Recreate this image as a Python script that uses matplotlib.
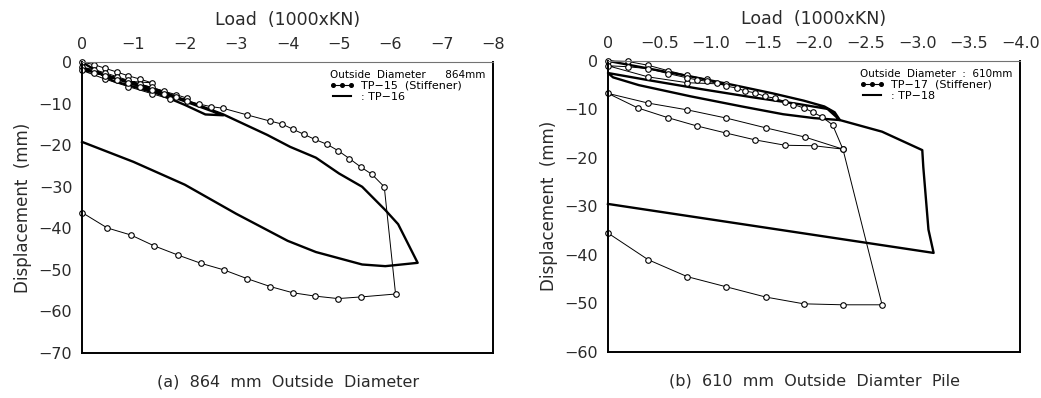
import matplotlib
matplotlib.use("Agg")
import matplotlib.pyplot as plt
from matplotlib.lines import Line2D
from matplotlib.ticker import FixedLocator, FixedFormatter

# ---------------- data: panel (a) 864 mm ----------------
a_xticks = [0, -1, -2, -3, -4, -5, -6, -7, -8]
a_xticklabels = ["0", "−1", "−2", "−3", "−4", "−5", "−6", "−7", "−8"]
a_yticks = [0, -10, -20, -30, -40, -50, -60, -70]
a_yticklabels = ["0", "−10", "−20", "−30", "−40", "−50", "−60", "−70"]

tp15_load = [0, -0.23, -0.45, -0.68, -0.9, -1.13, -1.36,
             -0.9, -0.45, 0,
             -0.23, -0.45, -0.68, -0.9, -1.13, -1.36, -1.59, -1.82, -2.05,
             -1.71, -1.36, -0.9, -0.45, 0,
             -0.23, -0.45, -0.68, -0.9, -1.13, -1.36, -1.59, -1.82, -2.05, -2.28, -2.5, -2.74,
             -3.21, -3.66, -3.89, -4.11, -4.32, -4.53, -4.77, -4.98, -5.2, -5.43, -5.64, -5.88,
             -6.1,
             -5.43, -4.98, -4.53, -4.1, -3.66, -3.21, -2.76, -2.31, -1.86, -1.4, -0.95, -0.49, 0]
tp15_disp = [0, -0.6, -1.5, -2.4, -3.3, -4.1, -5.0,
             -4.6, -3.4, -1.2,
             -1.8, -2.6, -3.5, -4.4, -5.3, -6.1, -7.0, -7.8, -8.7,
             -8.9, -7.6, -5.9, -4.1, -2.0,
             -2.6, -3.3, -4.2, -5.0, -5.9, -6.8, -7.7, -8.5, -9.4, -10.1, -10.7, -11.1,
             -12.7, -14.2, -14.9, -16.2, -17.4, -18.6, -19.8, -21.3, -23.2, -25.3, -27.0, -30.0,
             -55.8,
             -56.5, -56.9, -56.3, -55.5, -54.0, -52.1, -50.0, -48.4, -46.4, -44.2, -41.6, -39.9, -36.2]

tp16_load = [0, -0.6, -1.5, -2.0, -2.4, -2.75,
             -1.5, 0,
             -1.5, -2.75,
             -3.6, -4.05, -4.55, -5.0, -5.45, -5.9, -6.15, -6.53,
             -5.9, -5.45, -4.55, -4.0, -3.0, -2.0, -1.0, 0]
tp16_disp = [0, -4.5, -7.7, -10.3, -12.6, -12.8,
             -7.2, -1.5,
             -6.8, -12.6,
             -17.5, -20.4, -23.0, -26.8, -30.0, -35.6, -39.0, -48.3,
             -49.1, -48.7, -45.7, -43.0, -36.5, -29.5, -24.0, -19.2]

# ---------------- data: panel (b) 610 mm ----------------
b_xticks = [0, -0.5, -1.0, -1.5, -2.0, -2.5, -3.0, -3.5, -4.0]
b_xticklabels = ["0", "−0.5", "−1.0", "−1.5", "−2.0", "−2.5", "−3.0", "−3.5", "−4.0"]
b_yticks = [0, -10, -20, -30, -40, -50, -60]
b_yticklabels = ["0", "−10", "−20", "−30", "−40", "−50", "−60"]

tp17_load = [0, -0.19, -0.39, -0.58, -0.77, -0.96, -1.15,
             -0.77, -0.39, 0,
             -0.19, -0.39, -0.58, -0.77, -0.86, -0.96, -1.06, -1.15, -1.25, -1.33, -1.43,
             -1.52, -1.62, -1.72, -1.8, -1.9, -1.99, -2.08, -2.18, -2.28,
             -2.0, -1.72, -1.43, -1.15, -0.86, -0.58, -0.29, 0,
             -0.39, -0.77, -1.15, -1.53, -1.91, -2.28,
             -2.66,
             -2.28, -1.9, -1.53, -1.15, -0.77, -0.39, 0]
tp17_disp = [0, -0.1, -0.9, -2.0, -3.0, -3.8, -4.8,
             -4.5, -3.3, -1.0,
             -1.2, -1.6, -2.6, -3.5, -3.9, -4.2, -4.6, -5.2, -5.6, -6.2, -6.6,
             -7.3, -7.7, -8.4, -9.0, -9.7, -10.6, -11.6, -13.2, -18.2,
             -17.5, -17.4, -16.3, -14.9, -13.4, -11.7, -9.7, -6.7,
             -8.7, -10.1, -11.8, -13.8, -15.7, -18.2,
             -50.3,
             -50.3, -50.1, -48.7, -46.6, -44.5, -41.0, -35.5]

tp18_load = [0, -0.4, -0.8, -1.2, -1.6, -1.9, -2.1, -2.2, -2.25,
             -2.0, -1.7, -1.3, -0.8, -0.3, -0.05, 0,
             -0.4, -0.9, -1.4, -1.85, -2.13, -2.25,
             -2.66, -3.05, -3.06, -3.11, -3.16,
             0]
tp18_disp = [0, -1.6, -3.2, -4.9, -6.7, -8.2, -9.4, -10.6, -12.2,
             -11.8, -11.0, -9.4, -7.3, -5.0, -3.4, -2.5,
             -4.0, -5.8, -7.5, -8.9, -9.9, -12.2,
             -14.6, -18.4, -21.9, -34.8, -39.6,
             -29.5]

panel_titles = ["(a)  864  mm  Outside  Diameter", "(b)  610  mm  Outside  Diamter  Pile"]
legend_titles = ["Outside  Diameter      864mm", "Outside  Diameter  :  610mm"]
stiff_labels = ["TP−15  (Stiffener)", "TP−17  (Stiffener)"]
plain_labels = [": TP−16", ": TP−18"]

# ---------------- drawing ----------------
plt.rcParams['font.family'] = ['DejaVu Sans']
fig = plt.figure(figsize=(10.41, 3.98), dpi=100)
axA = fig.add_axes([0.0788, 0.113, 0.395, 0.731])
axB = fig.add_axes([0.584, 0.116, 0.396, 0.731])

panels = [
    (axA, (0, -8), (-70, 0), a_xticks, a_xticklabels, a_yticks, a_yticklabels,
     tp15_load, tp15_disp, tp16_load, tp16_disp),
    (axB, (0, -4), (-60, 0), b_xticks, b_xticklabels, b_yticks, b_yticklabels,
     tp17_load, tp17_disp, tp18_load, tp18_disp),
]

txtc = '#2a2a2a'
for i, (ax, xl, yl, xt, xtl, yt, ytl, sl, sd, pl, pd) in enumerate(panels):
    ax.plot(pl, pd, color='black', lw=1.7, solid_joinstyle='round', clip_on=False)
    ax.plot(sl, sd, color='black', lw=0.7, marker='o', ms=4.0, mfc='white',
            mec='black', mew=0.8, clip_on=False)
    ax.set_xlim(*xl)
    ax.set_ylim(*yl)
    ax.xaxis.tick_top()
    ax.xaxis.set_label_position('top')
    ax.xaxis.set_major_locator(FixedLocator(xt))
    ax.xaxis.set_major_formatter(FixedFormatter(xtl))
    ax.yaxis.set_major_locator(FixedLocator(yt))
    ax.yaxis.set_major_formatter(FixedFormatter(ytl))
    ax.tick_params(length=0, labelsize=11.5, pad=7, colors=txtc)
    ax.set_xlabel("Load  (1000xKN)", fontsize=12.5, labelpad=9, color=txtc)
    ax.set_ylabel("Displacement  (mm)", fontsize=12, labelpad=5, color=txtc)
    for s in ['left', 'bottom', 'right']:
        ax.spines[s].set_linewidth(1.4)
    ax.spines['top'].set_linewidth(0.8)
    ax.spines['top'].set_color('0.45')
    h1 = Line2D([], [], color='black', lw=0.8, marker='o', ms=2.6, mfc='black', mec='black')
    h2 = Line2D([], [], color='black', lw=1.5)
    leg = ax.legend([h1, h2], [stiff_labels[i], plain_labels[i]], loc='upper right',
                    frameon=False, fontsize=8, title=legend_titles[i], title_fontsize=7.5,
                    numpoints=3, handlelength=2.2, handletextpad=0.6, borderaxespad=0.3,
                    labelspacing=0.1, alignment='left')
    ax.text(0.5, -0.075, panel_titles[i], transform=ax.transAxes, ha='center', va='top',
            fontsize=11.5, color=txtc)

fig.savefig("out.png", dpi=100)
